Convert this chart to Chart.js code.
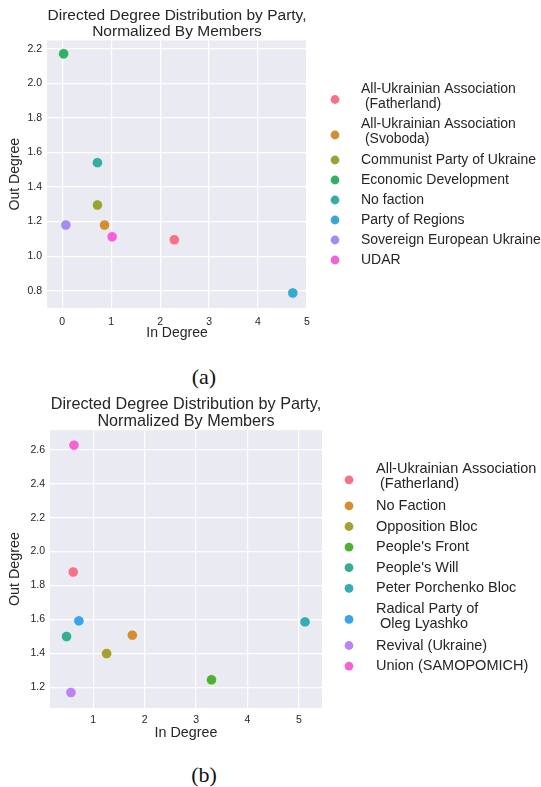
<!DOCTYPE html>
<html lang="en">

<head>
  <title>Directed Degree Distribution by Party</title>
  <script src="https://cdn.jsdelivr.net/npm/chart.js"></script>
  <style>
    body { margin: 0; background: #fff; }
    .tela { position: relative; width: 541px; height: 787px; overflow: hidden; }
    .grafico { position: absolute; left: 0; width: 541px; }
    .legenda { position: absolute; width: 80px; left: 164px; text-align: center;
      font-family: "Liberation Serif", "Times New Roman", serif; font-size: 22px; color: #111; }
  </style>
</head>

<body>
  <div class="tela">
    <div class="grafico" style="top: 0; height: 345px;"><canvas id="graficoA"></canvas></div>
    <div class="legenda" style="top: 364px;">(a)</div>
    <div class="grafico" style="top: 390px; height: 355px;"><canvas id="graficoB"></canvas></div>
    <div class="legenda" style="top: 762px;">(b)</div>
  </div>

<script>
  // (a) parties and values
  var partidosA = [
    ['All-Ukrainian Association', ' (Fatherland)'],
    ['All-Ukrainian Association', ' (Svoboda)'],
    ['Communist Party of Ukraine'],
    ['Economic Development'],
    ['No faction'],
    ['Party of Regions'],
    ['Sovereign European Ukraine'],
    ['UDAR']
  ];
  var inDegreeA = [2.29, 0.865, 0.72, 0.03, 0.72, 4.71, 0.075, 1.02];
  var outDegreeA = [1.095, 1.18, 1.296, 2.171, 1.541, 0.787, 1.18, 1.112];
  var coresA = ['#f77189', '#ce9032', '#97a431', '#32b166', '#36ada4', '#39a7d0', '#a48cf4', '#f561dd'];
  var ticksXA = [0, 1, 2, 3, 4, 5];
  var ticksYA = [0.8, 1.0, 1.2, 1.4, 1.6, 1.8, 2.0, 2.2];

  // (b) parties and values
  var partidosB = [
    ['All-Ukrainian Association', ' (Fatherland)'],
    ['No Faction'],
    ['Opposition Bloc'],
    ["People's Front"],
    ["People's Will"],
    ['Peter Porchenko Bloc'],
    ['Radical Party of', ' Oleg Lyashko'],
    ['Revival (Ukraine)'],
    ['Union (SAMOPOMICH)']
  ];
  var inDegreeB = [0.61, 1.76, 1.26, 3.30, 0.48, 5.12, 0.72, 0.566, 0.625];
  var outDegreeB = [1.88, 1.508, 1.40, 1.245, 1.50, 1.586, 1.592, 1.17, 2.627];
  var coresB = ['#f77189', '#d58c32', '#a4a031', '#50b131', '#34ae91', '#37abb5', '#3ba3ec', '#bb83f4', '#f564d4'];
  var ticksXB = [1, 2, 3, 4, 5];
  var ticksYB = [1.2, 1.4, 1.6, 1.8, 2.0, 2.2, 2.4, 2.6];

  var fonte = '"Liberation Sans", Arial, sans-serif';
  var corTexto = '#262626';

  // fundo cinza da area do grafico
  var fundoPlugin = {
    id: 'fundo',
    beforeDraw: function (chart) {
      var a = chart.chartArea;
      chart.ctx.save();
      chart.ctx.fillStyle = '#eaeaf2';
      chart.ctx.fillRect(a.left, a.top, a.right - a.left, a.bottom - a.top);
      chart.ctx.restore();
    }
  };

  // legenda a direita, com rotulos de duas linhas
  var legendaPlugin = {
    id: 'legendaLado',
    afterDraw: function (chart, args, opts) {
      var ctx = chart.ctx;
      ctx.save();
      ctx.font = opts.tamanho + 'px ' + fonte;
      ctx.textBaseline = 'middle';
      ctx.textAlign = 'left';
      var y = opts.topo;
      chart.data.datasets.forEach(function (ds) {
        var linhas = ds.linhas;
        var yIni = y;
        linhas.forEach(function (l, i) {
          ctx.fillStyle = corTexto;
          ctx.fillText(l, opts.textoX, y);
          if (i < linhas.length - 1) y += opts.linha;
        });
        var yMarca = (yIni + y) / 2 + (linhas.length > 1 ? 3 : 0);
        ctx.beginPath();
        ctx.arc(opts.marcaX, yMarca, 4.4, 0, Math.PI * 2);
        ctx.fillStyle = ds.backgroundColor;
        ctx.fill();
        y += opts.espaco + (linhas.length > 1 ? opts.extra : 0);
      });
      ctx.restore();
    }
  };

  function montarGrafico(id, partidos, xs, ys, cores, ticksX, ticksY, cfg) {
    var datasets = [];
    for (var i = 0; i < partidos.length; i++) {
      datasets.push({
        label: partidos[i].join(''),
        linhas: partidos[i],
        data: [{ x: xs[i], y: ys[i] }],
        backgroundColor: cores[i],
        borderColor: '#ffffff',
        borderWidth: 0.6,
        pointRadius: 5.2,
        pointHoverRadius: 5.2
      });
    }

    var config = {
      type: 'scatter',
      data: { datasets: datasets },
      plugins: [fundoPlugin, legendaPlugin],
      options: {
        responsive: true,
        maintainAspectRatio: false,
        animation: false,
        events: [],
        layout: { padding: { left: 0, right: cfg.direita, top: 0, bottom: 0 } },
        plugins: {
          legend: { display: false },
          tooltip: { enabled: false },
          title: {
            display: true,
            fullSize: false,
            text: ['Directed Degree Distribution by Party,', 'Normalized By Members'],
            color: corTexto,
            font: { family: fonte, size: cfg.titulo, weight: 'normal', lineHeight: 1.07 },
            padding: { top: cfg.tituloTopo, bottom: cfg.tituloBaixo }
          },
          legendaLado: cfg.legenda
        },
        scales: {
          x: {
            type: 'linear',
            min: cfg.xMin,
            max: cfg.xMax,
            afterBuildTicks: function (s) { s.ticks = ticksX.map(function (v) { return { value: v }; }); },
            afterFit: function (s) { s.height = cfg.alturaX; },
            grid: { color: '#ffffff', lineWidth: 1.2, drawTicks: false },
            border: { display: false },
            ticks: {
              includeBounds: false, padding: cfg.padX, color: corTexto,
              font: { family: fonte, size: 10.5 },
              callback: function (v) { return String(v); }
            },
            title: {
              display: true, text: 'In Degree', color: corTexto,
              font: { family: fonte, size: cfg.eixo }, padding: { top: 0, bottom: 3.6 }
            }
          },
          y: {
            type: 'linear',
            min: cfg.yMin,
            max: cfg.yMax,
            afterBuildTicks: function (s) { s.ticks = ticksY.map(function (v) { return { value: v }; }); },
            afterFit: function (s) { s.width = cfg.larguraY; },
            grid: { color: '#ffffff', lineWidth: 1.2, drawTicks: false },
            border: { display: false },
            ticks: {
              includeBounds: false, padding: 5, color: corTexto,
              font: { family: fonte, size: 10.5 },
              callback: function (v) { return Number(v).toFixed(1); }
            },
            title: {
              display: true, text: 'Out Degree', color: corTexto,
              font: { family: fonte, size: cfg.eixo }, padding: { top: 6.6, bottom: 0 }
            }
          }
        }
      }
    };

    return new Chart(document.getElementById(id), config);
  }

  montarGrafico('graficoA', partidosA, inDegreeA, outDegreeA, coresA, ticksXA, ticksYA, {
    direita: 541 - 307, xMin: -0.31, xMax: 5.0, yMin: 0.70, yMax: 2.248,
    titulo: 15.5, tituloTopo: 7.3, tituloBaixo: 0, eixo: 14, padX: 7.5,
    alturaX: 345 - 308, larguraY: 47,
    legenda: { tamanho: 14, topo: 89, linha: 15, espaco: 20, extra: 0.5, marcaX: 335, textoX: 361 }
  });

  montarGrafico('graficoB', partidosB, inDegreeB, outDegreeB, coresB, ticksXB, ticksYB, {
    direita: 541 - 322, xMin: 0.158, xMax: 5.45, yMin: 1.079, yMax: 2.715,
    titulo: 16.2, tituloTopo: 5.5, tituloBaixo: 0, eixo: 14.3, padX: 6,
    alturaX: 355 - 318, larguraY: 50,
    legenda: { tamanho: 14.5, topo: 79.3, linha: 15, espaco: 20.6, extra: 1, marcaX: 349, textoX: 376 }
  });
</script>
</body>

</html>
